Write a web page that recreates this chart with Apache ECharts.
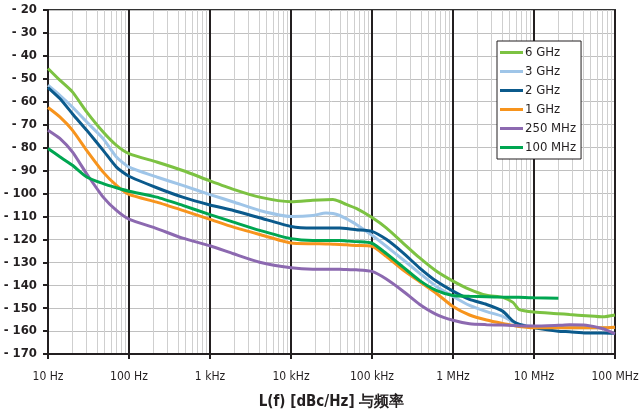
<!DOCTYPE html>
<html lang="zh">
<head>
    <meta charset="utf-8"/>
    <title>L(f) vs frequency</title>
    <script src="https://cdn.jsdelivr.net/npm/echarts@6/dist/echarts.min.js"></script>
    <style>
        html, body { margin: 0; padding: 0; background: #fff; }
        #chart { width: 643px; height: 417px; }
    </style>
</head>
<body>
<div id="chart"></div>
<script>
    // offset frequencies in Hz
    const freqs = [10, 14, 20, 30, 48, 70, 100, 220, 460, 1000, 1950, 4100, 10000, 18600, 27000, 33000, 40000, 48000, 64000,
        100000, 150000, 240000, 385000, 620000, 1e6, 1.6e6, 2.6e6, 4.1e6, 5.5e6, 6.5e6, 1e7, 2e7, 2.75e7, 4.4e7, 7.1e7, 1e8];

    // phase noise in dBc/Hz, one value per freq
    const ghz6 = [-45.5, -50.6, -55.7, -64.4, -73.2, -79, -82.6, -86.3, -90, -94.5, -98.2, -101.6, -103.6, -103, -102.7, -102.6, -103.5, -104.8, -106.5,
        -110.5, -115, -121.5, -128, -133.8, -138.2, -141.8, -144.4, -145.3, -147.5, -150.5, -151.7, -152.4, -152.8, -153.3, -153.8, -153];
    const ghz3 = [-52.8, -57.2, -62.3, -68.8, -76.1, -84.1, -88.5, -92.8, -96.5, -100.5, -103.7, -107.4, -110, -109.6, -108.5, -108.7, -109.6, -111, -113.5,
        -118.2, -123, -128.8, -134.7, -140.5, -144.9, -148.8, -151.5, -153.6, -156, -157, -158, -158.4, -158.5, -158.5, -158.5, -158.3];
    const ghz2 = [-53.8, -58.6, -65.2, -72.4, -81.2, -88.5, -92.5, -97.5, -101.6, -105, -107.4, -110.6, -114.4, -115.1, -115.1, -115.1, -115.1, -115.3, -115.8,
        -116.5, -120, -125.8, -132.4, -138.2, -142.6, -146.2, -148.4, -151.3, -155.7, -157, -158.6, -160.1, -160.3, -160.8, -160.8, -161];
    const ghz1 = [-62.5, -66.6, -72.4, -81.2, -90.7, -96.5, -100.4, -103.8, -107.4, -111.3, -114.7, -117.9, -121.6, -121.9, -122, -122.1, -122.2, -122.4, -122.7,
        -123, -127.4, -133.3, -138.4, -143.5, -149.3, -153, -155.2, -156.7, -157.5, -158, -158.6, -158.6, -158.6, -158.6, -158.6, -158.3];
    const mhz250 = [-72.4, -76, -81.9, -91.4, -101.6, -107.4, -111.2, -115.3, -119.5, -122.8, -126.3, -130, -132.4, -133, -133, -133, -133, -133.2, -133.3,
        -134, -137.3, -142.5, -148.3, -152.7, -155.3, -156.8, -157.2, -157.4, -157.6, -157.7, -157.8, -157.5, -157.3, -157.5, -159, -161.2];
    const mhz100 = [-80.4, -84, -87.7, -92.8, -95.7, -97.5, -99, -101.6, -105.2, -109.2, -112.5, -116.1, -119.7, -120.5, -120.5, -120.5, -120.5, -120.7, -121,
        -121.7, -126.2, -132, -137.9, -142.3, -144.5, -144.8, -145, -145.2, -145.3, -145.3, -145.5, -145.7, null, null, null, null];

    const seriesNames = ['6 GHz', '3 GHz', '2 GHz', '1 GHz', '250 MHz', '100 MHz'];
    const seriesData = [ghz6, ghz3, ghz2, ghz1, mhz250, mhz100];
    const colors = ['#7cc242', '#9fc5e8', '#0b5a8c', '#f7941d', '#8c69b0', '#00a651'];

    const xTickLabels = ['10 Hz', '100 Hz', '1 kHz', '10 kHz', '100 kHz', '1 MHz', '10 MHz', '100 MHz'];

    const font = '"Liberation Sans Narrow", "DejaVu Sans Condensed", Roboto, sans-serif';
    const ink = '#231f20';

    const chart = echarts.init(document.getElementById('chart'));

    const series = seriesNames.map(function (name, i) {
        return {
            name: name,
            type: 'line',
            showSymbol: false,
            symbol: 'none',
            smooth: 0.2,
            connectNulls: false,
            z: 3,
            lineStyle: { color: colors[i], width: 3 },
            itemStyle: { color: colors[i] },
            data: freqs.map(function (f, k) {
                return [f, seriesData[i][k]];
            })
        };
    });

    const option = {
        animation: false,
        textStyle: { fontFamily: font },
        grid: {
            left: 48, right: 28, top: 10, bottom: 63,
            show: true,
            borderColor: '#333',
            borderWidth: 2,
            backgroundColor: 'transparent'
        },
        legend: {
            orient: 'vertical',
            left: 497,
            top: 41,
            data: seriesNames,
            icon: 'rect',
            itemWidth: 23,
            itemHeight: 3,
            itemGap: 6,
            padding: [5, 5, 5, 3],
            backgroundColor: '#fff',
            borderColor: ink,
            borderWidth: 1,
            borderRadius: 0,
            textStyle: { fontFamily: font, fontSize: 13, color: ink, padding: [0, 0, 0, -3] }
        },
        xAxis: {
            type: 'log',
            logBase: 10,
            min: 10,
            max: 1e8,
            name: 'L(f) [dBc/Hz] 与频率',
            nameLocation: 'middle',
            nameGap: 41,
            nameTextStyle: { fontFamily: font, fontSize: 15, fontWeight: 'bold', color: ink },
            axisLine: { show: true, onZero: false, lineStyle: { color: ink, width: 2 } },
            axisTick: { show: true, length: 5, lineStyle: { color: ink, width: 2 } },
            axisLabel: {
                show: true,
                margin: 17,
                fontSize: 12,
                color: ink,
                showMinLabel: true,
                showMaxLabel: true,
                formatter: function (v) {
                    return xTickLabels[Math.round(Math.log10(v)) - 1];
                }
            },
            splitLine: { show: true, lineStyle: { color: ink, width: 2 } },
            minorTick: { show: false, splitNumber: 9 },
            minorSplitLine: { show: true, lineStyle: { color: '#cfcfcf', width: 1 } }
        },
        yAxis: {
            type: 'value',
            min: -170,
            max: -20,
            interval: 10,
            axisLine: { show: true, onZero: false, lineStyle: { color: ink, width: 2 } },
            axisTick: { show: true, length: 5, lineStyle: { color: ink, width: 2 } },
            axisLabel: {
                margin: 11,
                fontSize: 13,
                fontWeight: 'bold',
                color: ink,
                formatter: function (v) {
                    return '- ' + Math.abs(v);
                }
            },
            splitLine: { show: true, lineStyle: { color: '#c0c0c0', width: 1 } }
        },
        series: series
    };

    chart.setOption(option);
</script>
</body>
</html>
